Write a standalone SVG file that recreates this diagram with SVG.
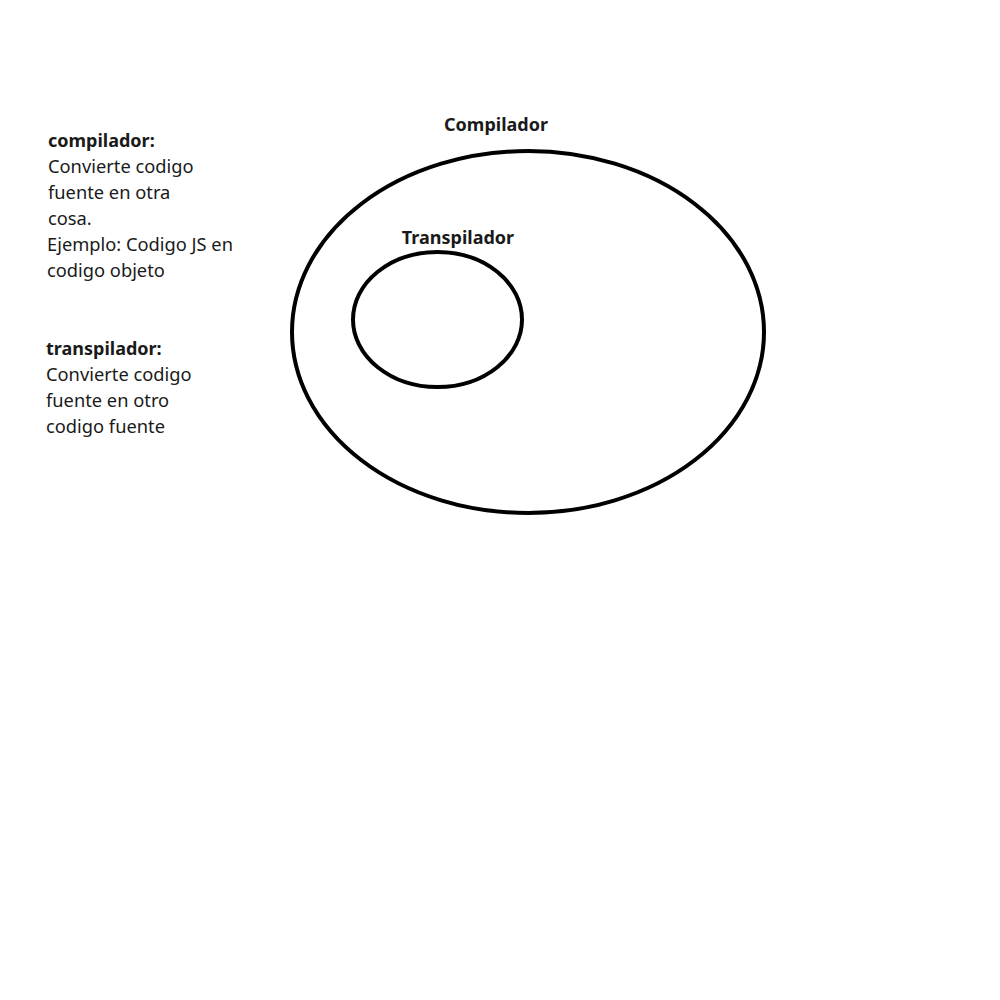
<svg xmlns="http://www.w3.org/2000/svg" width="1000" height="1000" viewBox="0 0 1000 1000">
<style>
text{font-family:"Noto Sans","Open Sans",sans-serif;fill:#1a1a1a;font-size:18.3px}
.b{font-weight:bold;font-size:18px}
.e{fill:none;stroke:#000;stroke-width:4}
</style>
<rect width="1000" height="1000" fill="#fff"/>
<g id="compilador">
<ellipse class="e" cx="528" cy="332" rx="236" ry="181"/>
<text class="b" x="496" y="131" text-anchor="middle">Compilador</text>
</g>
<g id="transpilador">
<ellipse class="e" cx="437.5" cy="319.5" rx="84.5" ry="67.5"/>
<text class="b" x="458" y="244" text-anchor="middle">Transpilador</text>
</g>
<g id="notes">
<text x="48" y="147"><tspan class="b">compilador:</tspan><tspan x="48" dy="26">Convierte codigo</tspan><tspan x="48" dy="26">fuente en otra</tspan><tspan x="48" dy="26">cosa.</tspan><tspan x="47" dy="25.5">Ejemplo: Codigo JS en</tspan><tspan x="47" dy="26">codigo objeto</tspan></text>
<text x="46" y="355"><tspan class="b">transpilador:</tspan><tspan x="46" dy="26">Convierte codigo</tspan><tspan x="46" dy="26">fuente en otro</tspan><tspan x="46" dy="26">codigo fuente</tspan></text>
</g>
<g id="connectors"/>
</svg>
